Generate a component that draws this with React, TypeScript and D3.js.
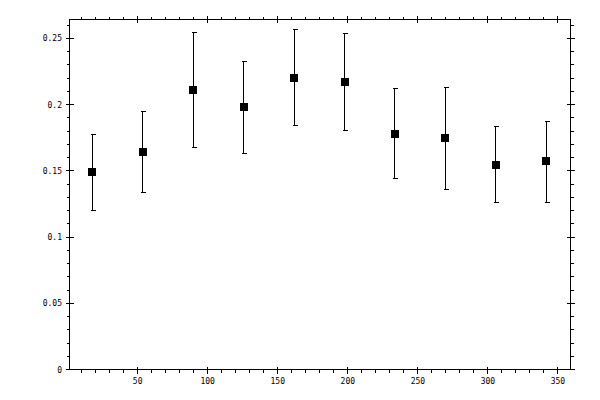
import * as d3 from "d3";

// measured points (x, mean, upper, lower)
const xValues = [18, 54, 90, 126, 162, 198, 234, 270, 306, 342];
const means = [0.1488, 0.1639, 0.2107, 0.1979, 0.2205, 0.2168, 0.1782, 0.1745, 0.1548, 0.1571];
const uppers = [0.1775, 0.1949, 0.2545, 0.2323, 0.2565, 0.2535, 0.2122, 0.213, 0.1835, 0.1873];
const lowers = [0.12, 0.1337, 0.1677, 0.1631, 0.1843, 0.1805, 0.1443, 0.136, 0.1261, 0.1261];

const xMajor = [50, 100, 150, 200, 250, 300, 350];
const xMinor = d3.range(10, 360, 10).filter((v) => v % 50 !== 0);
const yMajor = [0, 0.05, 0.1, 0.15, 0.2, 0.25];
const yMinor = d3.range(1, 27).filter((v) => v % 5 !== 0).map((v) => v / 100);

const yLabels = ["0", "0.05", "0.1", "0.15", "0.2", "0.25"];

export default function App() {
  const width = 600;
  const height = 400;
  const L = 69.5, R = 570.5, T = 19.5, B = 369.5;

  const x = d3.scaleLinear().domain([1.7, 359.3]).range([L, R]);
  const y = d3.scaleLinear().domain([0, 0.2643]).range([B, T]);

  // snap to pixel centres for crisp 1px lines
  const px = (v: number) => Math.round(v - 0.5) + 0.5;

  const font = "'DejaVu Sans Mono', monospace";

  return (
    <svg
      width={width}
      height={height}
      style={{ position: "absolute", left: 0, top: 0, background: "white" }}
    >
      <g stroke="black" strokeWidth={1} fill="none" shapeRendering="crispEdges">
        {/* frame */}
        <rect x={L} y={T} width={R - L} height={B - T} />

        {/* bottom + top minor ticks */}
        {xMinor.map((v) => (
          <g key={"xm" + v}>
            <line x1={px(x(v))} x2={px(x(v))} y1={B} y2={B + 3} />
            <line x1={px(x(v))} x2={px(x(v))} y1={T} y2={T - 3} />
          </g>
        ))}
        {/* bottom + top major ticks */}
        {xMajor.map((v) => (
          <g key={"xM" + v}>
            <line x1={px(x(v))} x2={px(x(v))} y1={B - 3} y2={B + 4} />
            <line x1={px(x(v))} x2={px(x(v))} y1={T + 3} y2={T - 4} />
          </g>
        ))}

        {/* left + right minor ticks */}
        {yMinor.map((v) => (
          <g key={"ym" + v}>
            <line x1={L} x2={L - 3} y1={px(y(v))} y2={px(y(v))} />
            <line x1={R} x2={R + 3} y1={px(y(v))} y2={px(y(v))} />
          </g>
        ))}
        {/* left + right major ticks */}
        {yMajor.map((v) => (
          <g key={"yM" + v}>
            <line x1={L - 4} x2={L + 4} y1={px(y(v))} y2={px(y(v))} />
            <line x1={R + 4} x2={R - 4} y1={px(y(v))} y2={px(y(v))} />
          </g>
        ))}

        {/* error bars */}
        {xValues.map((xv, i) => {
          const cx = px(x(xv));
          const yt = px(y(uppers[i]));
          const yb = px(y(lowers[i]));
          return (
            <g key={"e" + i}>
              <line x1={cx} x2={cx} y1={yt} y2={yb} />
              <line x1={cx - 2} x2={cx + 3} y1={yt} y2={yt} />
              <line x1={cx - 2} x2={cx + 3} y1={yb} y2={yb} />
            </g>
          );
        })}
      </g>

      {/* markers */}
      <g fill="black" shapeRendering="crispEdges">
        {xValues.map((xv, i) => (
          <rect
            key={"p" + i}
            x={Math.round(x(xv)) - 4}
            y={Math.round(y(means[i])) - 4}
            width={8}
            height={8}
          />
        ))}
      </g>

      {/* tick labels */}
      <g fontFamily={font} fontSize={8} fill="black">
        {yMajor.map((v, i) => (
          <text key={"yl" + v} x={62} y={y(v) + 3} textAnchor="end">
            {yLabels[i]}
          </text>
        ))}
        {xMajor.map((v) => (
          <text key={"xl" + v} x={x(v) + 0.5} y={383.5} textAnchor="middle">
            {v}
          </text>
        ))}
      </g>
    </svg>
  );
}
